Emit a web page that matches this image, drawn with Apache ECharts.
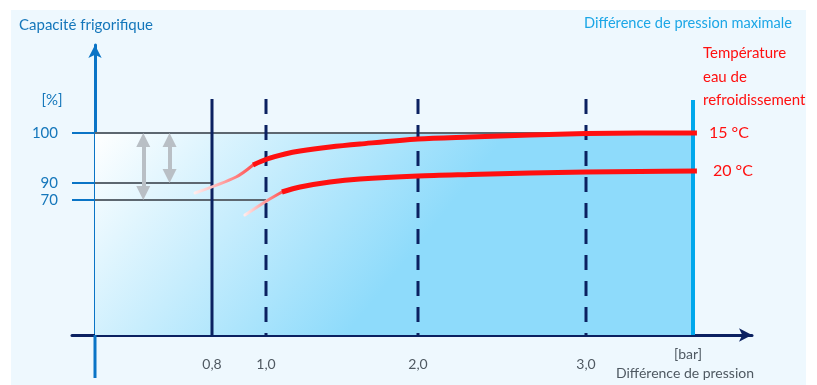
<!DOCTYPE html>
<html><head><meta charset="utf-8">
<script src="https://cdn.jsdelivr.net/npm/echarts@6/dist/echarts.min.js"></script>
<style>html,body{margin:0;padding:0;background:#fff}#c{width:817px;height:385px}</style>
</head><body><div id="c"></div>
<script>
// ---------- data (bar / %) ----------
const pressureTicks = [0.8, 1.0, 2.0, 3.0];
const pressureTickLabels = ['0,8', '1,0', '2,0', '3,0'];
const pressureMax = 3.6;
const capacityTicks = [70, 90, 100];
const capacityTickLabels = ['70', '90', '100'];
const curve15Fade = [[0.684, 78.2], [0.889, 91.2], [0.952, 93.6]];
const curve15 = [[0.952, 93.6], [1.007, 94.8], [1.125, 95.8], [1.224, 96.4], [1.421, 97.2], [1.618, 97.8], [2.0, 98.8], [2.31, 99.2], [2.667, 99.6], [3.0, 99.9], [3.303, 100], [3.622, 100]];
const curve20Fade = [[0.922, 62.2], [0.996, 69.0], [1.105, 79.4]];
const curve20 = [[1.105, 79.4], [1.224, 85.3], [1.421, 90.2], [1.618, 90.8], [2.0, 91.4], [2.31, 91.7], [2.667, 92.0], [3.0, 92.2], [3.303, 92.3], [3.622, 92.4]];
const curveLabels = ['15 °C', '20 °C'];
const arrowX = [0.33, 0.51];
const arrowFrom = [100, 100];
const arrowTo = [70, 90];
const gridStop = [pressureMax, 0.8, 1.0]; // where the 100 / 90 / 70 reference lines end

// ---------- schematic (non-linear) scale ----------
const xScaleBar = [0, 0.8, 1.0, 2.0, 3.0, 3.6];
const xScaleUnit = [0, 117, 171, 323, 491, 598];
const yScalePct = [0, 70, 90, 100];
const yScaleUnit = [0, 135, 152, 202];
function interp(v, a, b) {
  let i = 1;
  while (i < a.length - 1 && v > a[i]) i++;
  const t = (v - a[i - 1]) / (a[i] - a[i - 1]);
  return b[i - 1] + t * (b[i] - b[i - 1]);
}
const toX = p => interp(p, xScaleBar, xScaleUnit);
const toY = c => interp(c, yScalePct, yScaleUnit);
const pt = d => [toX(d[0]), toY(d[1])];

const FONT = 'Lato';
const NAVY = '#0b2161';
const BLUE = '#0a74c6';
const LABEL_BLUE = '#1577bb';
const GREY = '#5d6770';
const RED = '#ff1010';
const guideTop = 236;

const chart = echarts.init(document.getElementById('c'));

const series = [];
series.push({
  type: 'line', z: 1, symbol: 'none', silent: true,
  data: [[toX(0), toY(100)], [toX(gridStop[0]), toY(100)]],
  lineStyle: { color: GREY, width: 2 },
  areaStyle: {
    opacity: 1,
    color: new echarts.graphic.LinearGradient(0, 0, 0.42, 1, [
      { offset: 0, color: '#ffffff' }, { offset: 1, color: '#8edbfb' }])
  }
});
[90, 70].forEach((c, i) => series.push({
  type: 'line', z: 2, symbol: 'none', silent: true,
  data: [[toX(0), toY(c)], [toX(gridStop[i + 1]), toY(c)]],
  lineStyle: { color: GREY, width: 2 }
}));
pressureTicks.forEach((p, i) => series.push({
  type: 'line', z: 3, symbol: 'none', silent: true,
  data: [[toX(p), guideTop], [toX(p), 0]],
  lineStyle: { color: NAVY, width: 3, type: i === 0 ? 'solid' : [15, 11] }
}));
series.push({
  type: 'line', z: 3, symbol: 'none', silent: true,
  data: [[toX(pressureMax), guideTop - 1], [toX(pressureMax), 0]],
  lineStyle: { color: '#00a8ec', width: 4 }
});
series.push({
  type: 'lines', coordinateSystem: 'cartesian2d', z: 4, silent: true,
  symbol: ['triangle', 'triangle'], symbolSize: 14,
  lineStyle: { color: '#b9bfc5', width: 4, opacity: 1 },
  data: arrowX.map((x, i) => ({ coords: [[toX(x), toY(arrowFrom[i]) - 7], [toX(x), toY(arrowTo[i]) + 7]] }))
});
[[curve15Fade, curve15], [curve20Fade, curve20]].forEach((pair, i) => {
  series.push({
    type: 'line', z: 5, symbol: 'none', smooth: 0.3, silent: true,
    data: pair[0].map(pt),
    lineStyle: {
      width: 3, cap: 'round',
      color: new echarts.graphic.LinearGradient(0, 0, 1, 0, [
        { offset: 0, color: '#fff4f4' }, { offset: 1, color: '#ff4a4a' }])
    }
  });
  series.push({
    type: 'line', z: 6, symbol: 'none', smooth: 0.3, silent: true,
    data: pair[1].map(pt),
    lineStyle: { width: 5, color: RED },
    endLabel: { show: true, formatter: curveLabels[i], color: RED, fontSize: 16, fontFamily: FONT, distance: i === 0 ? 12 : 16 }
  });
});

function lookup(v, vals, labels) {
  for (let i = 0; i < vals.length; i++) if (Math.abs(vals[i] - v) < 0.5) return labels[i];
  return '';
}

const texts = [
  { type: 'rect', z: -100, shape: { x: 11, y: 10, width: 795, height: 375 }, style: { fill: '#eef8fe' } },
  { type: 'text', z: 10, x: 19, y: 25, style: { text: 'Capacité frigorifique', fill: LABEL_BLUE, font: '15px ' + FONT, verticalAlign: 'middle' } },
  { type: 'text', z: 10, x: 52, y: 100, style: { text: '[%]', fill: LABEL_BLUE, font: '15px ' + FONT, align: 'center', verticalAlign: 'middle' } },
  { type: 'text', z: 10, x: 792, y: 23, style: { text: 'Différence de pression maximale', fill: '#1ba6e6', font: '14.6px ' + FONT, align: 'right', verticalAlign: 'middle' } },
  { type: 'text', z: 10, x: 703, y: 53, style: { text: 'Température', fill: RED, font: '15px ' + FONT, verticalAlign: 'middle' } },
  { type: 'text', z: 10, x: 703, y: 77, style: { text: 'eau de', fill: RED, font: '15px ' + FONT, verticalAlign: 'middle' } },
  { type: 'text', z: 10, x: 703, y: 100, style: { text: 'refroidissement', fill: RED, font: '15px ' + FONT, verticalAlign: 'middle' } },
  { type: 'text', z: 10, x: 688, y: 354, style: { text: '[bar]', fill: '#4f5962', font: '14px ' + FONT, align: 'center', verticalAlign: 'middle' } },
  { type: 'text', z: 10, x: 685, y: 373, style: { text: 'Différence de pression', fill: '#4f5962', font: '14px ' + FONT, align: 'center', verticalAlign: 'middle' } }
];

chart.setOption({
  animation: false,
  backgroundColor: '#ffffff',
  grid: { left: 72, right: 65, top: 45, bottom: 50, containLabel: false, outerBoundsMode: 'none' },
  xAxis: {
    type: 'value', min: -23, max: 657,
    splitLine: { show: false },
    axisTick: { show: false },
    axisLine: { onZero: false, symbol: ['none', 'arrow'], symbolSize: [10, 13], lineStyle: { color: NAVY, width: 3 } },
    axisLabel: {
      customValues: pressureTicks.map(toX),
      formatter: v => lookup(v, pressureTicks.map(toX), pressureTickLabels),
      margin: 22, color: '#4f5962', fontSize: 14, fontFamily: FONT
    }
  },
  yAxis: {
    type: 'value', min: 0, max: 290,
    splitLine: { show: false },
    axisTick: { show: true, customValues: capacityTicks.map(toY), length: 23, lineStyle: { color: BLUE, width: 2 } },
    axisLine: { onZero: true, symbol: ['none', 'arrow'], symbolSize: [10, 13], lineStyle: { color: BLUE, width: 3 } },
    axisLabel: { show: false }
  },
  graphic: texts,
  series: series
});

// y tick labels placed through the axis scale, and the axis extension below the origin
const origin = chart.convertToPixel({ gridIndex: 0 }, [0, 0]);
capacityTicks.forEach((c, i) => {
  const py = chart.convertToPixel({ yAxisIndex: 0 }, toY(c));
  texts.push({ type: 'text', z: 10, x: origin[0] - 37, y: py, style: { text: capacityTickLabels[i], fill: LABEL_BLUE, font: '15px ' + FONT, align: 'right', verticalAlign: 'middle' } });
});
texts.push({ type: 'line', z: 1, shape: { x1: origin[0], y1: origin[1], x2: origin[0], y2: origin[1] + 43 }, style: { stroke: BLUE, lineWidth: 3 } });
chart.setOption({ graphic: texts }, { replaceMerge: ['graphic'] });
</script></body></html>
